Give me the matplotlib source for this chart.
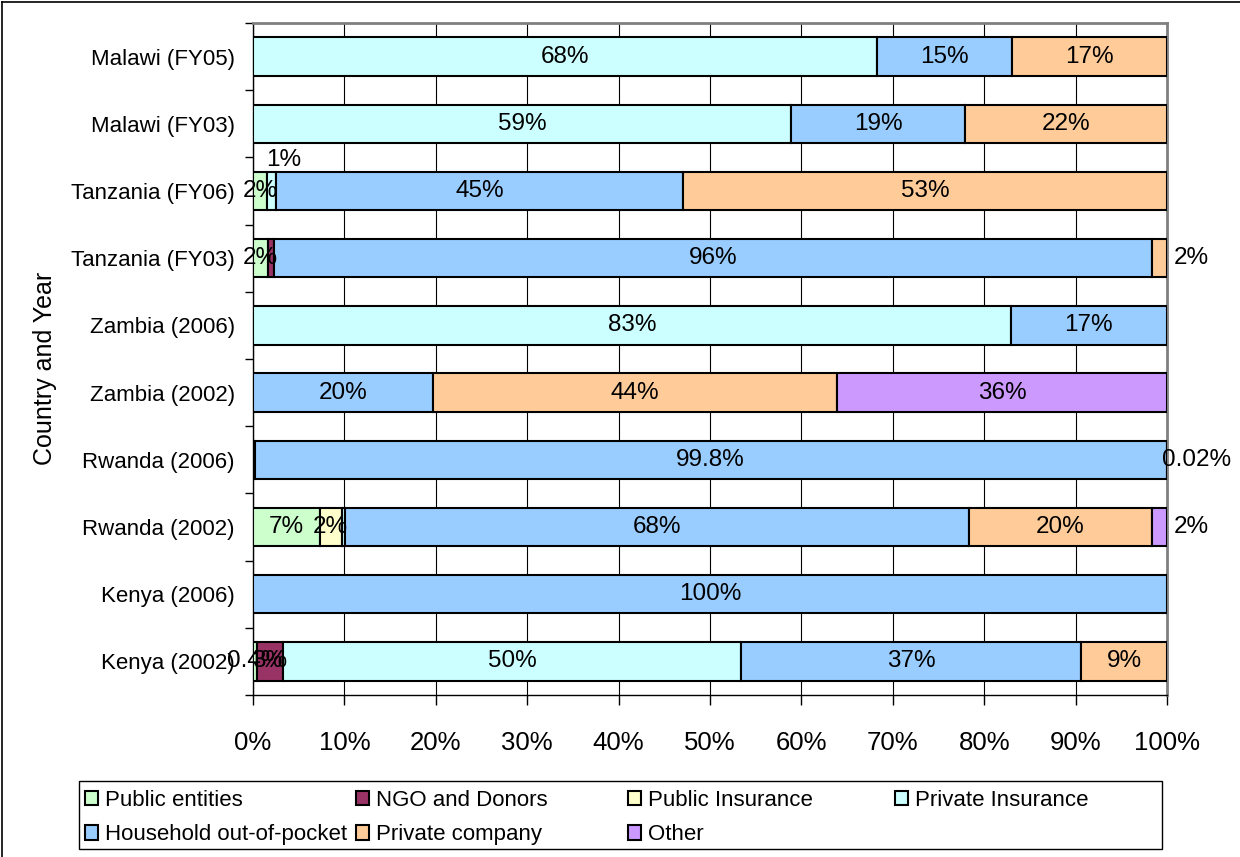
import matplotlib
matplotlib.use("Agg")
import matplotlib.pyplot as plt
import numpy as np
from matplotlib.patches import Patch, Rectangle
from matplotlib.lines import Line2D

plt.rcParams['font.family'] = ['Liberation Sans', 'DejaVu Sans']

# Rows listed bottom to top
countries = ["Kenya (2002)", "Kenya (2006)", "Rwanda (2002)", "Rwanda (2006)",
             "Zambia (2002)", "Zambia (2006)", "Tanzania (FY03)", "Tanzania (FY06)",
             "Malawi (FY03)", "Malawi (FY05)"]

series_names = ["Public entities", "NGO and Donors", "Public Insurance",
                "Private Insurance", "Household out-of-pocket", "Private company", "Other"]

public_entities   = [0.4, 0, 7.3, 0.18, 0, 0, 1.6, 1.5, 0, 0]
ngo_donors        = [2.9, 0, 0, 0, 0, 0, 0.7, 0, 0, 0]
public_insurance  = [0, 0, 2.4, 0, 0, 0, 0, 0, 0, 0]
private_insurance = [50.1, 0, 0.4, 0, 0, 82.9, 0, 1.0, 58.9, 68.3]
household_oop     = [37.2, 100, 68.2, 99.8, 19.7, 17.1, 96.1, 44.6, 19.0, 14.7]
private_company   = [9.4, 0, 20.1, 0, 44.2, 0, 1.6, 52.9, 22.1, 17.0]
other             = [0, 0, 1.6, 0.02, 36.1, 0, 0, 0, 0, 0]

series_values = [public_entities, ngo_donors, public_insurance, private_insurance,
                 household_oop, private_company, other]
colors = ["#CCFFCC", "#993366", "#FFFFCC", "#CCFFFF", "#99CCFF", "#FFCC99", "#CC99FF"]

x_ticks = np.arange(0, 101, 10)

# slivers drawn without a value label: (row, series)
unlabeled = {(2, 3), (6, 1), (3, 0)}
# labels moved off their segment: (row, series) -> offset in points
moved = {(7, 3): (9, 22), (6, 5): (23, 0), (2, 6): (23, 0), (3, 6): (21, 0)}


def pct(v):
    if v < 0.1:
        return f"{v:.2f}%"
    if v < 1:
        return f"{v:.1f}%"
    if 99 < v < 100:
        return f"{v:.1f}%"
    return f"{v:.0f}%"


W, H = 1240, 857
fig = plt.figure(figsize=(W / 100, H / 100), dpi=100)
ax = fig.add_axes([253 / W, 162 / H, 914 / W, 672 / H])

ypos = np.arange(len(countries))
left = np.zeros(len(countries))
for si, (vals, color) in enumerate(zip(series_values, colors)):
    vals = np.asarray(vals, dtype=float)
    mask = vals > 0
    ax.barh(ypos[mask], vals[mask], left=left[mask], height=0.57, color=color,
            edgecolor="black", linewidth=1.5, zorder=3)
    for ri in np.where(mask)[0]:
        if (ri, si) in unlabeled:
            continue
        cx = left[ri] + vals[ri] / 2
        dx, dy = moved.get((ri, si), (0, 0))
        ax.annotate(pct(vals[ri]), (cx, ypos[ri]), xytext=(dx, dy),
                    textcoords="offset points", ha="center", va="center",
                    fontsize=17.5, zorder=5, annotation_clip=False)
    left += vals

ax.set_xlim(0, 100)
ax.set_ylim(-0.5, len(countries) - 0.5)
ax.set_xticks(x_ticks)
ax.set_xticklabels([f"{t}%" for t in x_ticks], fontsize=18.5)
ax.set_yticks(ypos)
ax.set_yticklabels(countries, fontsize=16)
ax.set_yticks(np.arange(-0.5, len(countries), 1), minor=True)
ax.tick_params(axis="y", which="major", length=0, pad=13)
ax.tick_params(axis="y", which="minor", length=6, width=1, direction="out")
ax.tick_params(axis="x", which="major", length=7, width=1, direction="out", pad=19)
ax.xaxis.grid(True, color="black", linewidth=0.8, zorder=0)
ax.set_axisbelow(True)

for side in ("top", "right"):
    ax.spines[side].set_color("#808080")
    ax.spines[side].set_linewidth(2)
for side in ("left", "bottom"):
    ax.spines[side].set_color("black")
    ax.spines[side].set_linewidth(1)

fig.text(45 / W, 1 - 368 / H, "Country and Year", rotation=90, ha="center",
         va="center", fontsize=18)

# legend: framed box with four equally spaced columns
fig.add_artist(Rectangle((79 / W, 8 / H), (1162 - 79) / W, (849 - 781) / H,
                         transform=fig.transFigure, facecolor="white",
                         edgecolor="black", linewidth=1))
handles = [Patch(facecolor=c, edgecolor="black", linewidth=1.5) for c in colors]
order = [[0, 4], [1, 5], [2, 6], [3]]
col_x = [85, 356, 628, 895]
for cols, cx in zip(order, col_x):
    fig.legend([handles[i] for i in cols], [series_names[i] for i in cols],
               loc="upper left", bbox_to_anchor=(cx / W, 1 - 790 / H),
               frameon=False, fontsize=16, handlelength=0.6, handleheight=0.6,
               handletextpad=0.3, labelspacing=0.6, borderpad=0, borderaxespad=0)

# outer chart border
fig.add_artist(Line2D([2 / W, 1], [1 - 2 / H, 1 - 2 / H], color="black",
                      linewidth=1.2, transform=fig.transFigure))
fig.add_artist(Line2D([2 / W, 2 / W], [0, 1 - 2 / H], color="black",
                      linewidth=1.2, transform=fig.transFigure))

fig.savefig("out.png", dpi=100)
